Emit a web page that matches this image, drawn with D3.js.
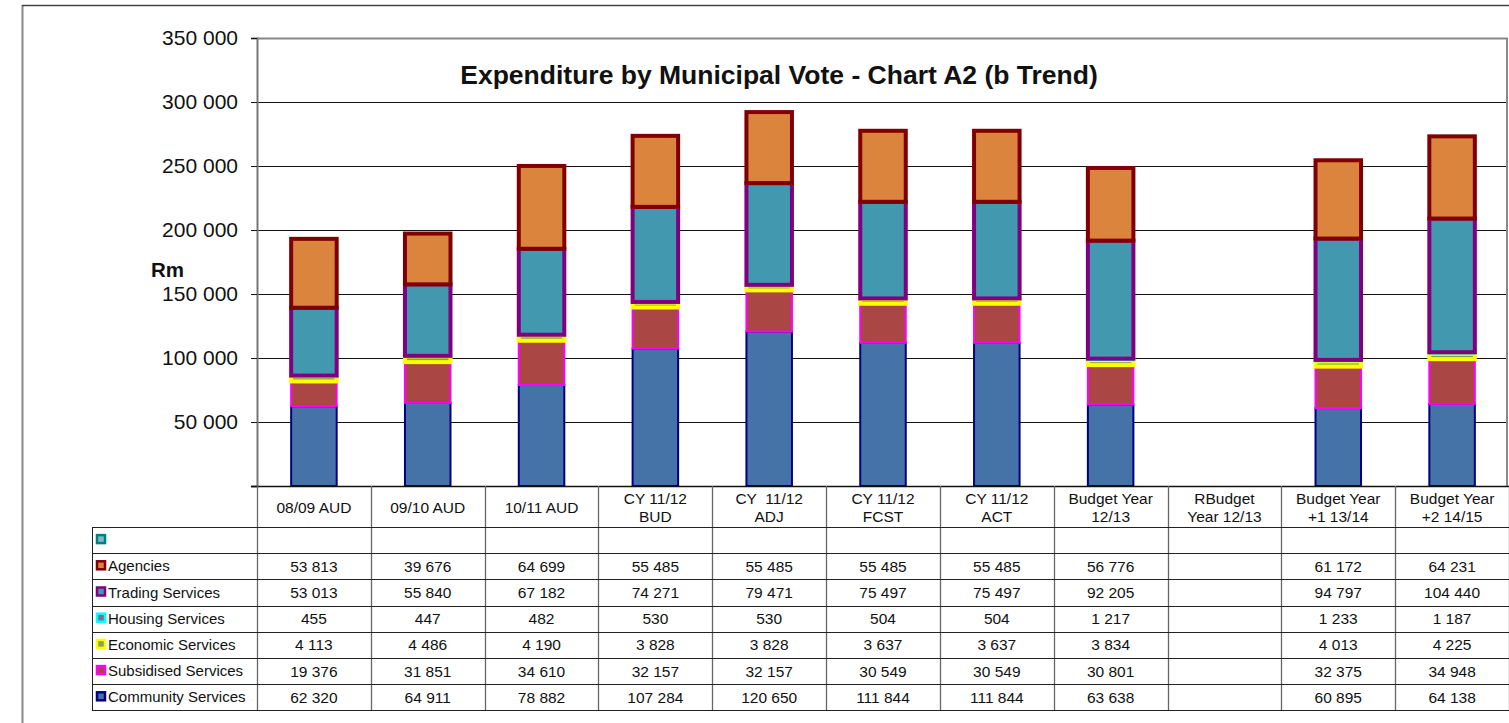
<!DOCTYPE html>
<html>
<head>
<meta charset="utf-8">
<script src="https://cdn.jsdelivr.net/npm/d3@7"></script>
<style>
  body { margin: 0; background: #fff; }
  svg { display: block; font-family: "Liberation Sans", Arial, sans-serif; }
</style>
</head>
<body>
<svg class="chart-svg" width="1509" height="723"></svg>
<script>
// categories (multi-line labels use \n)
var categories = ["08/09 AUD", "09/10 AUD", "10/11 AUD", "CY 11/12\nBUD", "CY  11/12\nADJ",
  "CY 11/12\nFCST", "CY 11/12\nACT", "Budget Year\n12/13", "RBudget\nYear 12/13",
  "Budget Year\n+1 13/14", "Budget Year\n+2 14/15"]

var community  = [62320, 64911, 78882, 107284, 120650, 111844, 111844, 63638, null, 60895, 64138]
var subsidised = [19376, 31851, 34610, 32157, 32157, 30549, 30549, 30801, null, 32375, 34948]
var economic   = [4113, 4486, 4190, 3828, 3828, 3637, 3637, 3834, null, 4013, 4225]
var housing    = [455, 447, 482, 530, 530, 504, 504, 1217, null, 1233, 1187]
var trading    = [53013, 55840, 67182, 74271, 79471, 75497, 75497, 92205, null, 94797, 104440]
var agencies   = [53813, 39676, 64699, 55485, 55485, 55485, 55485, 56776, null, 61172, 64231]

var yTicks = [50000, 100000, 150000, 200000, 250000, 300000, 350000]

// series, bottom of stack first
var series = [
  {key: "community", name: "Community Services", values: community, fill: "#4572A7", stroke: "#000080", sw: 2},
  {key: "subsidised", name: "Subsidised Services", values: subsidised, fill: "#AA4643", stroke: "#FF00FF", sw: 2},
  {key: "economic", name: "Economic Services", values: economic, fill: "#89A54E", stroke: "#FFFF00", sw: 4},
  {key: "housing", name: "Housing Services", values: housing, fill: "#80699B", stroke: "#00FFFF", sw: 1.5},
  {key: "trading", name: "Trading Services", values: trading, fill: "#4198AF", stroke: "#800080", sw: 4},
  {key: "agencies", name: "Agencies", values: agencies, fill: "#DB843D", stroke: "#800000", sw: 4}
]
// table rows, top to bottom (first one is the empty series)
var tableRows = [{name: "", values: categories.map(() => null), fill: "#7FB8C8", stroke: "#008080"}]
  .concat(series.slice().reverse())

var margin = {left: 257, right: 2, top: 38, bottom: 237}
var W = 1509, H = 723
var plotBottom = H - margin.bottom  // 486
var headerH = 41, rowH = 26.2

var svg = d3.select(".chart-svg")
var fmt = v => v == null ? "" : d3.format(",")(v).replace(/,/g, " ")

// outer frame
svg.append("line").attr("x1", 22.5).attr("x2", 22.5).attr("y1", 5).attr("y2", H)
  .attr("stroke", "#888").attr("stroke-width", 2)
svg.append("line").attr("x1", 22).attr("x2", W).attr("y1", 5.5).attr("y2", 5.5)
  .attr("stroke", "#444").attr("stroke-width", 1.5)

var xScale = d3.scaleBand()
  .domain(categories)
  .range([margin.left, W])
  .padding(0)

var yScale = d3.scaleLinear()
  .domain([0, 350000])
  .range([plotBottom, margin.top])

// gridlines
svg.append("g")
  .selectAll("line")
  .data(yTicks.slice(0, -1))
  .enter().append("line")
  .attr("x1", margin.left).attr("x2", W - margin.right)
  .attr("y1", d => Math.round(yScale(d)) + 0.5).attr("y2", d => Math.round(yScale(d)) + 0.5)
  .attr("stroke", "#111").attr("stroke-width", 1)

// plot border top/right
svg.append("path")
  .attr("d", "M" + margin.left + "," + (margin.top + 0.5) + "H" + (W - margin.right) + "V" + plotBottom)
  .attr("fill", "none").attr("stroke", "#888").attr("stroke-width", 2)

// y axis
var yAxis = svg.append("g")
  .attr("class", "y axis")
  .attr("transform", "translate(" + margin.left + ",0)")
  .call(d3.axisLeft(yScale).tickValues(yTicks).tickSize(6).tickPadding(13).tickFormat(fmt))
yAxis.select(".domain").attr("stroke", "#777").attr("stroke-width", 2)
yAxis.selectAll(".tick line").attr("stroke", "#111")
yAxis.selectAll("text").attr("font-size", "21px").attr("fill", "#111")
  .attr("font-family", "'Liberation Sans', Arial, sans-serif")

svg.append("text").text("Rm")
  .attr("x", 151).attr("y", 277)
  .attr("font-size", "20.5px").attr("font-weight", "bold").attr("fill", "#111")

// title
svg.append("text").text("Expenditure by Municipal Vote - Chart A2 (b Trend)")
  .attr("x", 779).attr("y", 84)
  .attr("text-anchor", "middle")
  .attr("font-size", "26.5px").attr("font-weight", "bold").attr("fill", "#111")

// stacked bars
var table = categories.map((c, i) => {
  var row = {cat: c}
  series.forEach(s => { row[s.key] = s.values[i] == null ? 0 : s.values[i] })
  row.empty = series.every(s => s.values[i] == null)
  return row
})
var stacked = d3.stack().keys(series.map(s => s.key))(table)
var barW = xScale.bandwidth() * 0.4

stacked.forEach((layer, li) => {
  var s = series[li]
  svg.append("g")
    .attr("class", "series-" + s.key)
    .selectAll("rect")
    .data(layer.filter(d => !d.data.empty))
    .enter().append("rect")
    .attr("x", d => xScale(d.data.cat) + (xScale.bandwidth() - barW) / 2)
    .attr("y", d => yScale(d[1]))
    .attr("width", barW)
    .attr("height", d => yScale(d[0]) - yScale(d[1]))
    .attr("fill", s.fill)
    .attr("stroke", s.stroke)
    .attr("stroke-width", s.sw)
})

// x axis line
svg.append("line")
  .attr("x1", margin.left - 6).attr("x2", W).attr("y1", plotBottom + 0.5).attr("y2", plotBottom + 0.5)
  .attr("stroke", "#111").attr("stroke-width", 1.5)

// data table
var tableTop = plotBottom
var tableBottom = tableTop + headerH + rowH * tableRows.length
var legendLeft = 92
var tg = svg.append("g").attr("class", "data-table")

// vertical column lines
tg.selectAll(".col-line")
  .data(categories.concat(["end"]))
  .enter().append("line")
  .attr("x1", (d, i) => Math.round(margin.left + i * xScale.bandwidth()) + 0.5)
  .attr("x2", (d, i) => Math.round(margin.left + i * xScale.bandwidth()) + 0.5)
  .attr("y1", tableTop).attr("y2", tableBottom)
  .attr("stroke", "#666").attr("stroke-width", 1.3)
tg.append("line")
  .attr("x1", legendLeft + 0.5).attr("x2", legendLeft + 0.5)
  .attr("y1", tableTop + headerH).attr("y2", tableBottom)
  .attr("stroke", "#222").attr("stroke-width", 1)

// horizontal row lines
d3.range(tableRows.length + 1).forEach(i => {
  var y = Math.round(tableTop + headerH + i * rowH) + 0.5
  tg.append("line")
    .attr("x1", legendLeft).attr("x2", W).attr("y1", y).attr("y2", y)
    .attr("stroke", "#222").attr("stroke-width", 1)
})

// header labels
tg.selectAll(".cat-label")
  .data(categories)
  .enter().append("text")
  .attr("class", "cat-label")
  .attr("text-anchor", "middle")
  .attr("font-size", "15.5px").attr("fill", "#111")
  .each(function(d) {
    var lines = d.split("\n")
    var cx = xScale(d) + xScale.bandwidth() / 2
    var y0 = tableTop + headerH / 2 + 6 - (lines.length - 1) * 9
    d3.select(this).selectAll("tspan")
      .data(lines).enter().append("tspan")
      .attr("x", cx).attr("y", (l, j) => y0 + j * 18)
      .attr("xml:space", "preserve")
      .text(l => l)
  })

// rows: legend key, label, values
tableRows.forEach((r, i) => {
  var yMid = tableTop + headerH + i * rowH + rowH / 2
  tg.append("rect")
    .attr("x", 97).attr("y", yMid - 5)
    .attr("width", 8).attr("height", 8)
    .attr("fill", r.fill).attr("stroke", r.stroke).attr("stroke-width", 2.5)
  tg.append("text").text(r.name)
    .attr("x", 108).attr("y", yMid + 5)
    .attr("font-size", "15px").attr("fill", "#111")
  tg.selectAll(null)
    .data(r.values.map((v, j) => ({v: v, cat: categories[j]})))
    .enter().append("text")
    .attr("x", d => xScale(d.cat) + xScale.bandwidth() / 2)
    .attr("y", yMid + 5.5)
    .attr("text-anchor", "middle")
    .attr("font-size", "15.5px").attr("fill", "#111")
    .text(d => fmt(d.v))
})
</script>
</body>
</html>
